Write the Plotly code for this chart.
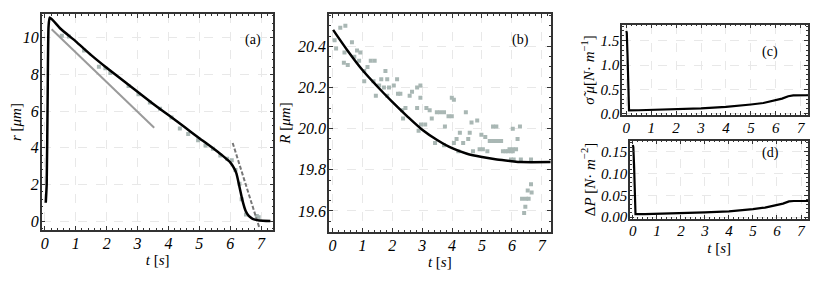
import plotly.graph_objects as go

# ---------------- data ----------------
# (a) radius r(t)
a_fit_t = [0.03, 0.06, 0.09, 0.12, 0.16, 0.5, 1.0, 1.5, 2.0, 2.5, 3.0, 3.5, 4.0, 4.5, 5.0, 5.5, 5.8, 6.0, 6.1, 6.2, 6.3, 6.4, 6.5, 6.6, 6.7, 6.8, 6.95, 7.3]
a_fit_r = [1.0, 2.0, 6.5, 10.6, 11.1, 10.5, 9.8, 9.05, 8.36, 7.7, 7.05, 6.4, 5.78, 5.15, 4.52, 3.9, 3.5, 3.2, 2.95, 2.6, 1.86, 1.1, 0.55, 0.28, 0.15, 0.08, 0.03, 0.0]
a_pts_t = [0.55, 0.78, 1.27, 1.75, 1.96, 2.12, 2.71, 3.03, 3.40, 3.73, 4.10, 4.37, 4.64, 4.96, 5.20, 5.44, 5.68, 5.90, 6.05, 6.17, 6.30, 6.37, 6.51, 6.86, 6.92]
a_pts_r = [10.1, 10.07, 9.3, 8.42, 8.33, 8.07, 7.36, 6.91, 6.47, 6.12, 5.65, 5.05, 4.75, 4.40, 4.12, 3.94, 3.58, 3.40, 3.32, 2.79, 2.04, 1.19, 0.36, 0.27, 0.21]
a_slope1_t = [0.22, 3.54]
a_slope1_r = [10.46, 5.09]
a_slope2_t = [6.08, 6.94]
a_slope2_r = [4.26, -0.35]

# (b) outer radius R(t)
b_fit_t = [0.02, 0.5, 1.0, 1.5, 2.0, 2.5, 3.0, 3.5, 4.0, 4.5, 5.0, 5.5, 6.0, 6.3, 7.3]
b_fit_R = [20.48, 20.38, 20.285, 20.205, 20.13, 20.06, 19.995, 19.945, 19.905, 19.878, 19.862, 19.85, 19.842, 19.838, 19.838]
b_pts_t = [0.07, 0.12, 0.26, 0.43, 0.40, 0.38, 0.51, 0.65, 0.73, 0.82, 0.93, 0.89, 1.06, 1.06, 1.17, 1.28, 1.41, 1.37,
           1.45, 1.56, 1.63, 1.72, 1.77, 1.83, 1.83, 1.89, 2.05, 2.16, 2.19, 2.27, 2.33, 2.36, 2.44, 2.58, 2.66, 2.83,
           2.94, 2.94, 2.83, 2.88, 2.96, 3.10, 3.14, 3.25, 3.32, 3.43, 3.49, 3.60, 3.73, 3.76, 3.73, 3.88, 3.99, 3.99,
           4.06, 4.06, 4.15, 4.21, 4.26, 4.37, 4.46, 4.54, 4.59, 4.65, 4.70, 4.84, 4.92, 4.98, 5.03, 5.11, 5.18, 5.26,
           5.37, 5.37, 5.48, 5.48, 5.56, 5.64, 5.70, 5.79, 5.86, 5.92, 5.97, 6.03, 6.03, 5.97, 6.06, 6.14, 6.03, 6.19,
           6.30, 6.27, 6.34, 6.47, 6.56, 6.45, 6.41, 6.53, 6.64, 6.66, 6.64]
b_pts_R = [20.43, 20.39, 20.49, 20.50, 20.37, 20.32, 20.31, 20.42, 20.35, 20.38, 20.37, 20.33, 20.28, 20.23, 20.30, 20.33, 20.33, 20.23,
           20.16, 20.21, 20.24, 20.20, 20.28, 20.24, 20.16, 20.20, 20.21, 20.24, 20.17, 20.17, 20.09, 20.05, 20.10, 20.16, 20.18, 20.20,
           20.21, 20.15, 20.10, 19.99, 20.02, 20.02, 20.10, 20.09, 20.05, 19.93, 20.08, 20.08, 20.08, 20.01, 19.92, 20.06, 20.06, 20.15,
           20.14, 19.93, 19.95, 19.89, 19.98, 19.93, 20.08, 19.95, 19.98, 20.03, 19.89, 20.04, 19.90, 19.97, 19.90, 19.96, 19.89, 19.94,
           19.94, 20.01, 20.01, 19.94, 19.94, 19.94, 19.89, 19.89, 19.89, 19.90, 19.89, 19.89, 19.90, 19.85, 19.85, 19.90, 20.00, 19.95,
           19.85, 20.01, 19.66, 19.66, 19.66, 19.62, 19.59, 19.70, 19.73, 19.69, 19.85]

# (c) tension and (d) pressure difference
cd_t = [0.0, 0.02, 0.05, 0.08, 0.11, 0.5, 1.0, 2.0, 3.0, 4.0, 4.5, 5.0, 5.5, 6.0, 6.25, 6.5, 6.7, 7.3]
c_val = [1.70, 1.66, 1.2, 0.4, 0.07, 0.072, 0.078, 0.092, 0.11, 0.14, 0.16, 0.19, 0.22, 0.27, 0.31, 0.36, 0.375, 0.38]
d_val = [0.165, 0.16, 0.12, 0.04, 0.007, 0.007, 0.0075, 0.009, 0.011, 0.0135, 0.0155, 0.0185, 0.022, 0.027, 0.031, 0.036, 0.037, 0.037]

# tick labels
x_ticks = [0, 1, 2, 3, 4, 5, 6, 7]
x_ticklabels = ["0", "1", "2", "3", "4", "5", "6", "7"]
a_yticks = [0, 2, 4, 6, 8, 10]
a_yticklabels = ["0", "2", "4", "6", "8", "10"]
b_yticks = [19.6, 19.8, 20.0, 20.2, 20.4]
b_yticklabels = ["19.6", "19.8", "20.0", "20.2", "20.4"]
c_yticks = [0, 0.5, 1.0, 1.5]
c_yticklabels = ["0.0", "0.5", "1.0", "1.5"]
d_yticks = [0, 0.05, 0.10, 0.15]
d_yticklabels = ["0.00", "0.05", "0.10", "0.15"]

# ---------------- style ----------------
FONT = "Liberation Serif"
PT_COLOR = "#A9B7B4"
tickfont_big = dict(family=FONT, size=16, color="black")
tickfont_small = dict(family=FONT, size=15, color="black")
titlefont = dict(family=FONT, size=15, color="black")

fig = go.Figure()

# (a)
fig.add_trace(go.Scatter(x=a_pts_t, y=a_pts_r, mode="markers", xaxis="x", yaxis="y",
                         marker=dict(symbol="square", size=4, color=PT_COLOR), showlegend=False))
fig.add_trace(go.Scatter(x=a_slope1_t, y=a_slope1_r, mode="lines", xaxis="x", yaxis="y",
                         line=dict(color="#9a9a9a", width=2), showlegend=False))
fig.add_trace(go.Scatter(x=a_slope2_t, y=a_slope2_r, mode="lines", xaxis="x", yaxis="y",
                         line=dict(color="#777777", width=2, dash="4px,2px"), showlegend=False))
fig.add_trace(go.Scatter(x=a_fit_t, y=a_fit_r, mode="lines", xaxis="x", yaxis="y",
                         line=dict(color="black", width=2.5, shape="spline", smoothing=0.5), showlegend=False))
# (b)
fig.add_trace(go.Scatter(x=b_pts_t, y=b_pts_R, mode="markers", xaxis="x2", yaxis="y2",
                         marker=dict(symbol="square", size=4, color=PT_COLOR), showlegend=False))
fig.add_trace(go.Scatter(x=b_fit_t, y=b_fit_R, mode="lines", xaxis="x2", yaxis="y2",
                         line=dict(color="black", width=2.5, shape="spline", smoothing=0.8), showlegend=False))
# (c)
fig.add_trace(go.Scatter(x=cd_t, y=c_val, mode="lines", xaxis="x3", yaxis="y3",
                         line=dict(color="black", width=2.2), showlegend=False))
# (d)
fig.add_trace(go.Scatter(x=cd_t, y=d_val, mode="lines", xaxis="x4", yaxis="y4",
                         line=dict(color="black", width=2.2), showlegend=False))


def ital(labels):
    return ["<i>%s</i>" % s for s in labels]


def ax(domain, rng, anchor, tickvals, ticklabels, title=None, standoff=None, minor_dtick=None, tf=tickfont_big):
    d = dict(domain=domain, range=rng, anchor=anchor, showline=True, linecolor="#333333", linewidth=1.5,
             mirror="allticks", ticks="inside", ticklen=4, tickcolor="#333333", tickwidth=1,
             showgrid=True, gridcolor="#e8e8e8", griddash="dash", gridwidth=1, zeroline=False,
             tickfont=tf, ticklabelstandoff=-2, tickmode="array", tickvals=tickvals,
             ticktext=ital(ticklabels))
    if minor_dtick is not None:
        d["minor"] = dict(ticks="inside", ticklen=2, tickcolor="#333333", dtick=minor_dtick, tick0=0, showgrid=False)
    if title is not None:
        t = dict(text=title, font=titlefont)
        if standoff is not None:
            t["standoff"] = standoff
        d["title"] = t
    return d


# the page body keeps an 8px margin, so the figure is drawn 8px smaller and
# reference pixel positions are shifted by that offset
OFF = 8
W, H = 830 - OFF, 284 - OFF
def xd(a, b):
    return [(a - OFF) / W, (b - OFF) / W]
def yd(top, bottom):
    return [1 - (bottom - OFF) / H, 1 - (top - OFF) / H]
def px(x):
    return (x - OFF) / W
def py(y):
    return 1 - (y - OFF) / H

label_font = dict(family=FONT, size=14, color="black")

fig.update_layout(
    width=W, height=H, margin=dict(l=0, r=0, t=0, b=0),
    paper_bgcolor="white", plot_bgcolor="white",
    font=dict(family=FONT),
    xaxis=ax(xd(34, 268), [-0.1, 7.4], "y", x_ticks, x_ticklabels, title="<i>t</i> [<i>s</i>]", minor_dtick=0.2, standoff=3),
    yaxis=ax(yd(14, 236), [-0.5, 11.3], "x", a_yticks, a_yticklabels, title="<i>r</i> [<i>μm</i>]", minor_dtick=0.4, standoff=4),
    xaxis2=ax(xd(324, 548), [-0.12, 7.3], "y2", x_ticks, x_ticklabels, title="<i>t</i> [<i>s</i>]", minor_dtick=0.2, standoff=3),
    yaxis2=ax(yd(14, 238), [19.497, 20.558], "x2", b_yticks, b_yticklabels, title="<i>R</i> [<i>μm</i>]",
              minor_dtick=0.05, standoff=4),
    xaxis3=ax(xd(620, 808), [-0.17, 7.3], "y3", x_ticks, x_ticklabels, minor_dtick=0.2, tf=tickfont_small),
    yaxis3=ax(yd(25, 118), [-0.03, 1.83], "x3", c_yticks, c_yticklabels,
              title="<i>σ̃ μ</i>[<i>N</i>· <i>m</i><sup>−1</sup>]", minor_dtick=0.1, standoff=2, tf=tickfont_small),
    xaxis4=ax(xd(628, 808), [-0.12, 7.3], "y4", x_ticks, x_ticklabels, title="<i>t</i> [<i>s</i>]", minor_dtick=0.2,
              standoff=4, tf=tickfont_small),
    yaxis4=ax(yd(144, 224), [-0.003, 0.175], "x4", d_yticks, d_yticklabels,
              title="Δ<i>P</i> [<i>N</i>· <i>m</i><sup>−2</sup>]", minor_dtick=0.01, standoff=2, tf=tickfont_small),
    annotations=[
        dict(text="(a)", x=px(237), y=py(31), xref="paper", yref="paper", showarrow=False, font=label_font),
        dict(text="(b)", x=px(517), y=py(31), xref="paper", yref="paper", showarrow=False, font=label_font),
        dict(text="(c)", x=px(780), y=py(43), xref="paper", yref="paper", showarrow=False, font=label_font),
        dict(text="(d)", x=px(781), y=py(157), xref="paper", yref="paper", showarrow=False, font=label_font),
    ],
)

fig.write_html("out.html")
